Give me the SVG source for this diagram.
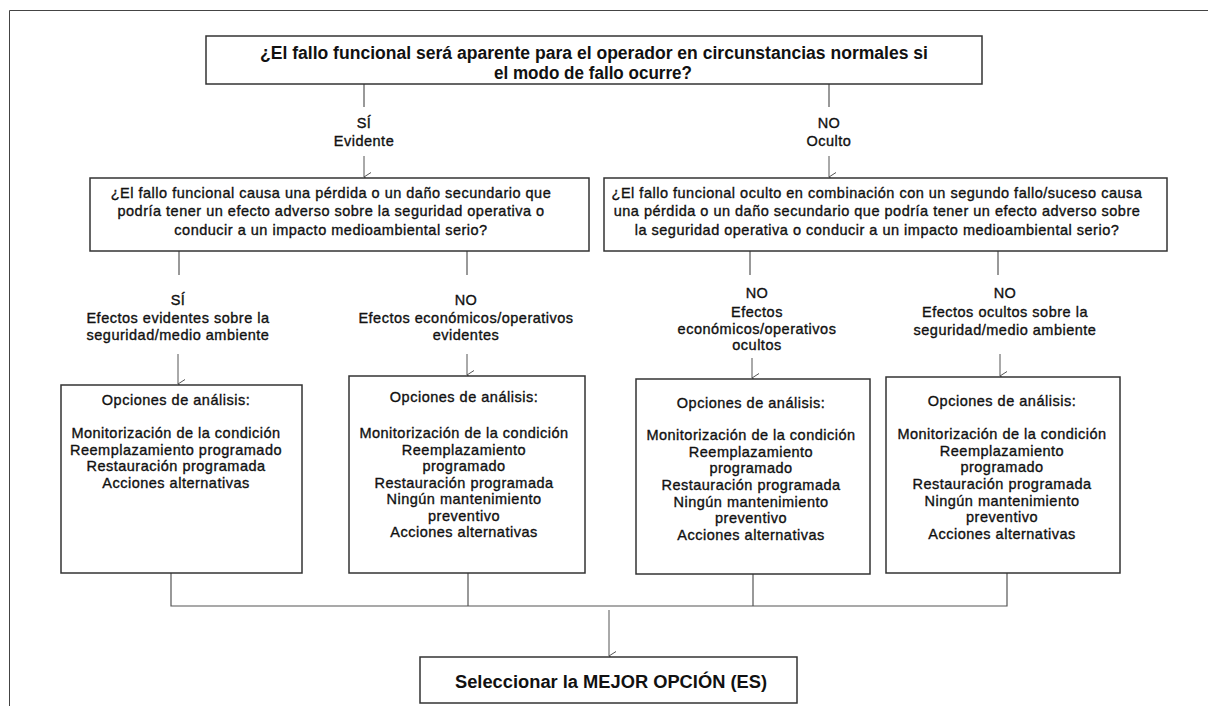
<svg xmlns="http://www.w3.org/2000/svg" width="1208" height="706" viewBox="0 0 1208 706">
  <defs>
    <marker id="open-arrow" viewBox="0 0 12 12" refX="6" refY="11" markerWidth="12" markerHeight="12" markerUnits="userSpaceOnUse" orient="auto-start-reverse">
      <path d="M1.5,4 L6,11 L10.5,4" fill="none" stroke="#555" stroke-width="1"/>
    </marker>
    <style>
      .box { fill: #ffffff; stroke: #333; stroke-width: 1.5; }
      .wire { fill: none; stroke: #555; stroke-width: 1.2; }
      .arrow { fill: none; stroke: #555; stroke-width: 1; marker-end: url(#open-arrow); }
      .t { font-family: "Liberation Sans", Arial, sans-serif; font-size: 14.5px; fill: #111; stroke: #111; stroke-width: 0.35px; text-anchor: middle; letter-spacing: 0.5px; }
      .head { font-family: "Liberation Sans", Arial, sans-serif; font-size: 18px; font-weight: bold; fill: #111; text-anchor: middle; }
    </style>
  </defs>

  <rect width="1208" height="706" fill="#ffffff"/>
  <!-- page frame -->
  <path d="M9.5,706 L9.5,10.5 L1208,10.5" fill="none" stroke="#444" stroke-width="1"/>

  <!-- connectors -->
  <g id="connectors">
    <path class="wire" d="M364,84 V107"/>
    <path class="wire" d="M829,84 V107"/>
    <path class="arrow" d="M364,156 V177"/>
    <path class="arrow" d="M829,156 V177"/>

    <path class="wire" d="M179,251 V275"/>
    <path class="wire" d="M467,251 V275"/>
    <path class="wire" d="M750,251 V275"/>
    <path class="wire" d="M998,251 V275"/>

    <path class="arrow" d="M178,354 V384"/>
    <path class="arrow" d="M467,354 V375"/>
    <path class="arrow" d="M752,358 V378"/>
    <path class="arrow" d="M1000,354 V376"/>

    <path class="wire" d="M171,573 V606 H1007 V573"/>
    <path class="wire" d="M468,573 V606"/>
    <path class="wire" d="M753,574 V606"/>
    <path class="arrow" d="M609,610 V656"/>
  </g>

  <!-- branch labels -->
  <g id="labels">
    <text class="t" x="364" y="128">SÍ</text>
    <text class="t" x="364" y="146">Evidente</text>
    <text class="t" x="829" y="128">NO</text>
    <text class="t" x="829" y="146">Oculto</text>

    <text class="t" x="178" y="305">SÍ</text>
    <text class="t" x="178" y="323">Efectos evidentes sobre la</text>
    <text class="t" x="178" y="340">seguridad/medio ambiente</text>

    <text class="t" x="466" y="305">NO</text>
    <text class="t" x="466" y="323">Efectos económicos/operativos</text>
    <text class="t" x="466" y="340">evidentes</text>

    <text class="t" x="757" y="298">NO</text>
    <text class="t" x="757" y="317">Efectos</text>
    <text class="t" x="757" y="334">económicos/operativos</text>
    <text class="t" x="757" y="350">ocultos</text>

    <text class="t" x="1005" y="298">NO</text>
    <text class="t" x="1005" y="317">Efectos ocultos sobre la</text>
    <text class="t" x="1005" y="335">seguridad/medio ambiente</text>
  </g>

  <!-- top question -->
  <g id="q-aparente">
    <rect class="box" x="206" y="36" width="776" height="48"/>
    <text class="head" x="594" y="59" textLength="668" lengthAdjust="spacingAndGlyphs">¿El fallo funcional será aparente para el operador en circunstancias normales si</text>
    <text class="head" x="593" y="79" textLength="198" lengthAdjust="spacingAndGlyphs">el modo de fallo ocurre?</text>
  </g>

  <!-- evident branch question -->
  <g id="q-evidente">
    <rect class="box" x="90" y="178" width="499" height="73"/>
    <text class="t" x="331" y="198">¿El fallo funcional causa una pérdida o un daño secundario que</text>
    <text class="t" x="331" y="216">podría tener un efecto adverso sobre la seguridad operativa o</text>
    <text class="t" x="331" y="235">conducir a un impacto medioambiental serio?</text>
  </g>

  <!-- hidden branch question -->
  <g id="q-oculto">
    <rect class="box" x="604" y="178" width="563" height="73"/>
    <text class="t" x="877" y="198">¿El fallo funcional oculto en combinación con un segundo fallo/suceso causa</text>
    <text class="t" x="877" y="216">una pérdida o un daño secundario que podría tener un efecto adverso sobre</text>
    <text class="t" x="877" y="235">la seguridad operativa o conducir a un impacto medioambiental serio?</text>
  </g>

  <!-- analysis options: evident safety/environment -->
  <g id="opt-seguridad-evidente">
    <rect class="box" x="61" y="385" width="241" height="188"/>
    <text class="t" x="176" y="405">Opciones de análisis:</text>
    <text class="t" x="176" y="438">Monitorización de la condición</text>
    <text class="t" x="176" y="455">Reemplazamiento programado</text>
    <text class="t" x="176" y="471">Restauración programada</text>
    <text class="t" x="176" y="488">Acciones alternativas</text>
  </g>

  <!-- analysis options: evident economic/operational -->
  <g id="opt-economico-evidente">
    <rect class="box" x="349" y="376" width="236" height="197"/>
    <text class="t" x="464" y="402">Opciones de análisis:</text>
    <text class="t" x="464" y="438">Monitorización de la condición</text>
    <text class="t" x="464" y="455">Reemplazamiento</text>
    <text class="t" x="464" y="471">programado</text>
    <text class="t" x="464" y="488">Restauración programada</text>
    <text class="t" x="464" y="504">Ningún mantenimiento</text>
    <text class="t" x="464" y="521">preventivo</text>
    <text class="t" x="464" y="537">Acciones alternativas</text>
  </g>

  <!-- analysis options: hidden economic/operational -->
  <g id="opt-economico-oculto">
    <rect class="box" x="636" y="379" width="234" height="195"/>
    <text class="t" x="751" y="408">Opciones de análisis:</text>
    <text class="t" x="751" y="440">Monitorización de la condición</text>
    <text class="t" x="751" y="457">Reemplazamiento</text>
    <text class="t" x="751" y="473">programado</text>
    <text class="t" x="751" y="490">Restauración programada</text>
    <text class="t" x="751" y="507">Ningún mantenimiento</text>
    <text class="t" x="751" y="523">preventivo</text>
    <text class="t" x="751" y="540">Acciones alternativas</text>
  </g>

  <!-- analysis options: hidden safety/environment -->
  <g id="opt-seguridad-oculto">
    <rect class="box" x="886" y="377" width="234" height="196"/>
    <text class="t" x="1002" y="406">Opciones de análisis:</text>
    <text class="t" x="1002" y="439">Monitorización de la condición</text>
    <text class="t" x="1002" y="456">Reemplazamiento</text>
    <text class="t" x="1002" y="472">programado</text>
    <text class="t" x="1002" y="489">Restauración programada</text>
    <text class="t" x="1002" y="506">Ningún mantenimiento</text>
    <text class="t" x="1002" y="522">preventivo</text>
    <text class="t" x="1002" y="539">Acciones alternativas</text>
  </g>

  <!-- final selection -->
  <g id="mejor-opcion">
    <rect class="box" x="420" y="657" width="377" height="46"/>
    <text class="head" x="611" y="688" textLength="312" lengthAdjust="spacingAndGlyphs">Seleccionar la MEJOR OPCIÓN (ES)</text>
  </g>
</svg>
